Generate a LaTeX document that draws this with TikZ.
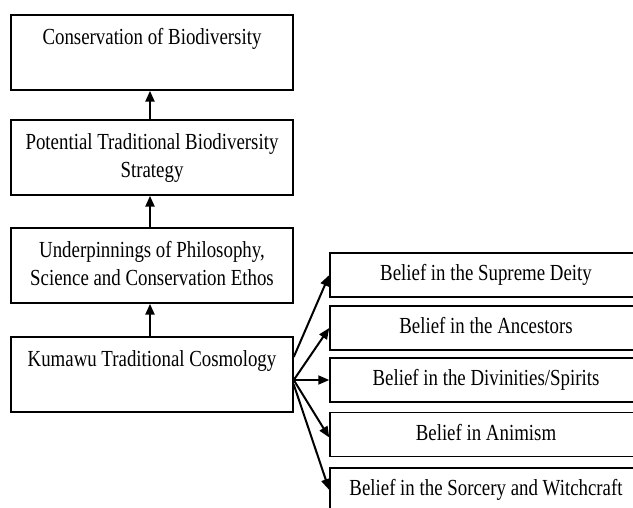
\documentclass[tikz,border=0pt]{standalone}
\usepackage{fontspec}
\setmainfont{Liberation Serif}[FakeStretch=0.82]
\usetikzlibrary{arrows.meta,calc}
\begin{document}
\begin{tikzpicture}[x=1pt,y=-1pt,
  box/.style={draw, line width=1.5pt, inner sep=0pt, align=center,
    font=\fontsize{23}{28}\selectfont},
  lbox/.style={box, minimum width=282pt, minimum height=75pt},
  rbox/.style={box, minimum width=312pt, minimum height=44pt},
  arr/.style={-{Triangle[length=11pt,width=9pt]}, line width=2.4pt},
  farr/.style={-{Triangle[length=11pt,width=9pt]}, line width=2pt}]
\clip (0,0) rectangle (633,508);
\node[lbox] (C) at (152,52.5) {Conservation of Biodiversity\strut\\\strut};
\node[lbox] (P) at (152,157.5) {Potential Traditional Biodiversity\strut\\Strategy\strut};
\node[lbox] (U) at (152,265.5) {Underpinnings of Philosophy,\strut\\Science and Conservation Ethos\strut};
\node[lbox] (K) at (152,374.5) {Kumawu Traditional Cosmology\strut\\\strut};
\node[rbox] (R1) at (486,275) {Belief in the Supreme Deity\strut};
\node[rbox] (R2) at (486,328) {Belief in the Ancestors\strut};
\node[rbox] (R3) at (486,380) {Belief in the Divinities/Spirits\strut};
\node[rbox] (R4) at (486,434.5) {Belief in Animism\strut};
\node[rbox] (R5) at (486,490) {Belief in the Sorcery and Witchcraft\strut};
\draw[arr] ($(P.north)+(-2,0)$) -- ($(C.south)+(-2,0)$);
\draw[arr] ($(U.north)+(-2,0)$) -- ($(P.south)+(-2,0)$);
\draw[arr] ($(K.north)+(-2,0)$) -- ($(U.south)+(-2,0)$);
\coordinate (o1) at ($(K.east)+(0,-17.5)$);
\coordinate (o2) at ($(K.east)+(0,5.5)$);
\coordinate (o3) at ($(K.east)+(0,10)$);
\draw[farr] (o1) -- (R1.west);
\draw[farr] (o2) -- (R2.west);
\draw[farr] (o2) -- (R3.west);
\draw[farr] (o2) -- ($(R4.west)+(0,3)$);
\draw[farr] (o3) -- (R5.west);
\end{tikzpicture}
\end{document}
